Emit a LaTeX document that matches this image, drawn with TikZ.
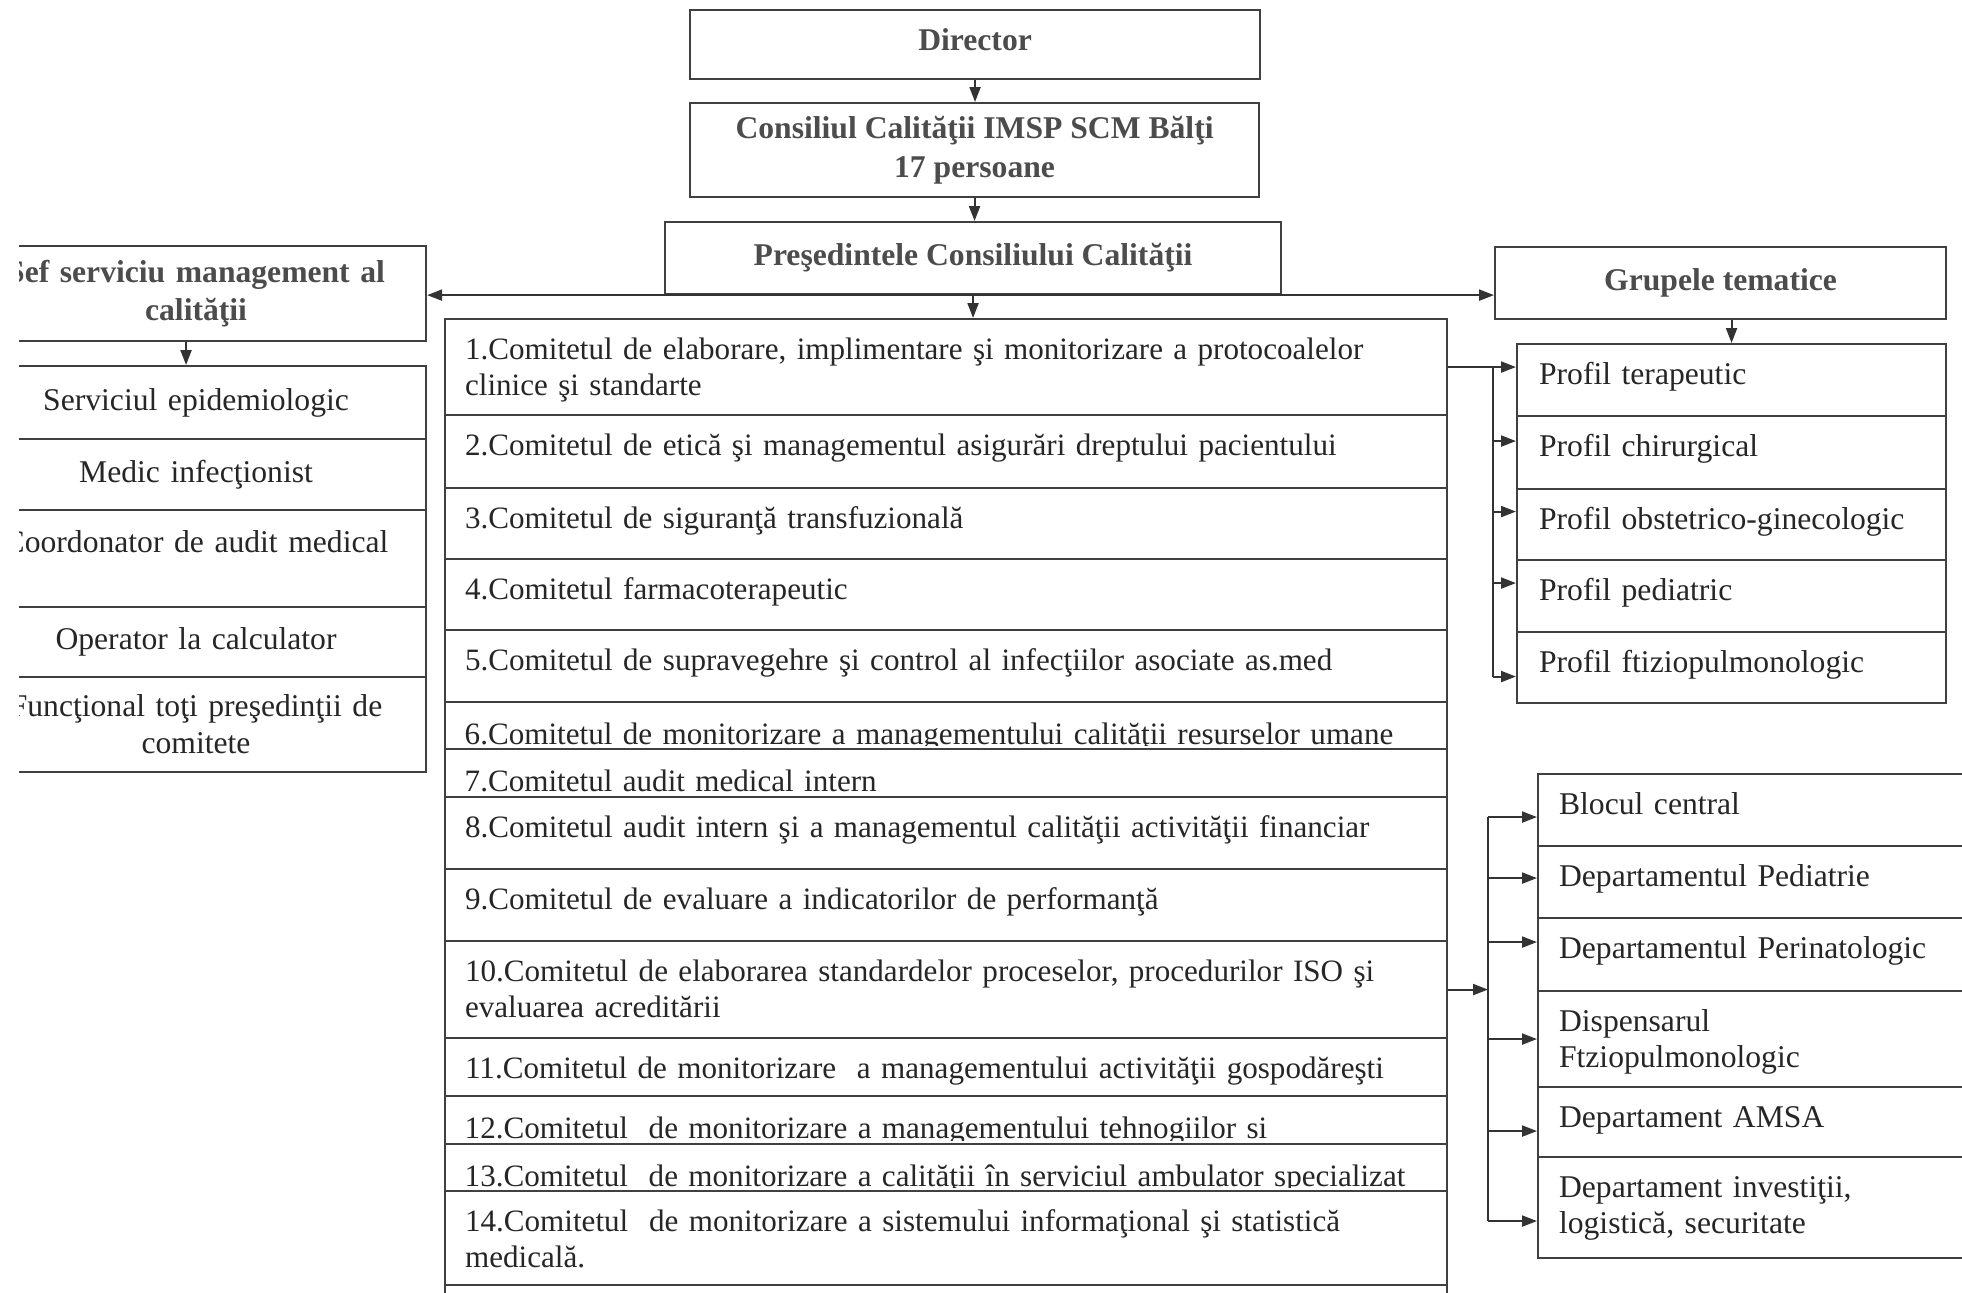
\documentclass[tikz,border=0pt]{standalone}
\usepackage{fontspec}
\setmainfont{Liberation Serif}
\usetikzlibrary{arrows.meta,positioning,calc}

\newcommand{\comfont}{\fontsize{8.85}{10.5}\selectfont}

\begin{document}
\begin{tikzpicture}[x=1cm,y=-1cm,
    >={Triangle[length=1.5mm,width=1.1mm]},
    box/.style={draw=black!75,fill=white,line width=0.6pt,inner sep=0pt,anchor=north west,
      font=\fontsize{9}{10.5}\selectfont,text=black!85},
    head/.style={box,font=\fontsize{9}{11}\selectfont\bfseries,text=black!70,align=center},
    side/.style={box,minimum width=4.6cm,text width=4.2cm,align=center},
    sidehead/.style={side,font=\fontsize{9}{11}\selectfont\bfseries,text=black!70},
    row/.style={box,inner xsep=2mm,text width=9.62cm,align=left,text height=4mm,font=\comfont},
    cut/.style={anchor=base west,inner sep=0pt,text width=9.62cm,align=left,font=\comfont,text=black!85},
    prof/.style={box,inner xsep=2.2mm,text width=3.85cm,align=left,text height=4mm},
    dept/.style={box,inner xsep=2.1mm,text width=3.98cm,align=left,text height=4mm},
    link/.style={draw=black!80,line width=0.6pt}]
  \useasboundingbox (0,0) rectangle (19.62,12.93);
  \clip (0.19,0) rectangle (19.62,12.93);

  % conducere
  \node[head,minimum width=5.70cm,text height=4mm,text depth=2.9mm] (dir) at (6.89,0.09) {Director};
  \node[head,minimum width=5.69cm,minimum height=0.94cm] (cons) at (6.89,1.02) {Consiliul Calităţii IMSP SCM Bălţi\\17 persoane};
  \node[head,minimum width=6.16cm,minimum height=0.72cm] (pres) at (6.64,2.21) {Preşedintele Consiliului Calităţii};

  % serviciul management al calitatii
  \node[sidehead,minimum height=0.95cm] (sef) at (-0.35,2.45) {Şef serviciu management al\\calităţii};
  \node[side,minimum height=0.73cm] (sep) at (-0.35,3.65) {Serviciul epidemiologic};
  \node[side,minimum height=0.71cm] (med) at (-0.35,4.38) {Medic infecţionist};
  \node[side,text height=4.2mm,text depth=5.5mm] (coord) at (-0.35,5.09) {Coordonator de audit medical};
  \node[side,minimum height=0.70cm] (oper) at (-0.35,6.06) {Operator la calculator};
  \node[side,minimum height=0.95cm] (func) at (-0.35,6.76) {Funcţional toţi preşedinţii de\\comitete};

  % grupele tematice
  \node[head,minimum width=4.51cm,minimum height=0.72cm] (grp) at (14.94,2.46) {Grupele tematice};
  \node[prof,text depth=3.2mm] (pt1) at (15.16,3.43) {Profil terapeutic};
  \node[prof,text depth=3.3mm] (pt2) at (15.16,4.15) {Profil chirurgical};
  \node[prof,text depth=3.1mm] (pt3) at (15.16,4.88) {Profil obstetrico-ginecologic};
  \node[prof,text depth=3.2mm] (pt4) at (15.16,5.59) {Profil pediatric};
  \node[prof,text depth=3.1mm] (pt5) at (15.16,6.31) {Profil ftiziopulmonologic};

  % comitete
  \node[row,text depth=5.6mm] (c1) at (4.44,3.18) {1.Comitetul de elaborare, implimentare şi monitorizare a protocoalelor\\clinice şi standarte};
  \node[row,text depth=3.3mm] (c2) at (4.44,4.14) {2.Comitetul de etică şi managementul asigurări dreptului pacientului};
  \node[row,text depth=3.1mm] (c3) at (4.44,4.87) {3.Comitetul de siguranţă transfuzională};
  \node[row,text depth=3.1mm] (c4) at (4.44,5.58) {4.Comitetul farmacoterapeutic};
  \node[row,text depth=3.2mm] (c5) at (4.44,6.29) {5.Comitetul de supravegehre şi control al infecţiilor asociate as.med};
  \node[row,minimum height=0.47cm] (c6) at (4.44,7.01) {};
  \begin{scope}
    \clip (c6.north west) rectangle ([yshift=0.05cm]c6.south east);
    \node[cut] (t6) at ([xshift=2mm,yshift=-0.435cm]c6.north west) {6.Comitetul de monitorizare a managementului calităţii resurselor umane};
  \end{scope}
  \node[row,minimum height=0.48cm] (c7) at (4.44,7.48) {};
  \begin{scope}
    \clip (c7.north west) rectangle ([yshift=0.05cm]c7.south east);
    \node[cut] (t7) at ([xshift=2mm,yshift=-0.435cm]c7.north west) {7.Comitetul audit medical intern};
  \end{scope}
  \node[row,text depth=3.2mm] (c8) at (4.44,7.96) {8.Comitetul audit intern şi a managementul calităţii activităţii financiar};
  \node[row,text depth=3.2mm] (c9) at (4.44,8.68) {9.Comitetul de evaluare a indicatorilor de performanţă};
  \node[row,text depth=5.7mm] (c10) at (4.44,9.40) {10.Comitetul de elaborarea standardelor proceselor, procedurilor ISO şi\\evaluarea acreditării};
  \node[row,text depth=1.8mm] (c11) at (4.44,10.37) {11.Comitetul de monitorizare \ a managementului activităţii gospodăreşti};
  \node[row,minimum height=0.48cm] (c12) at (4.44,10.95) {};
  \begin{scope}
    \clip (c12.north west) rectangle ([yshift=0.05cm]c12.south east);
    \node[cut] (t12) at ([xshift=2mm,yshift=-0.43cm]c12.north west) {12.Comitetul \ de monitorizare a managementului tehnogiilor si};
  \end{scope}
  \node[row,minimum height=0.47cm] (c13) at (4.44,11.43) {};
  \begin{scope}
    \clip (c13.north west) rectangle ([yshift=0.05cm]c13.south east);
    \node[cut] (t13) at ([xshift=2mm,yshift=-0.43cm]c13.north west) {13.Comitetul \ de monitorizare a calităţii în serviciul ambulator specializat};
  \end{scope}
  \node[row,text depth=5.4mm] (c14) at (4.44,11.90) {14.Comitetul \ de monitorizare a sistemului informaţional şi statistică\\medicală.};
  \node[row,minimum height=1cm] (c15) at (4.44,12.84) {};

  % departamente
  \node[dept,text depth=3.2mm] (d1) at (15.37,7.73) {Blocul central};
  \node[dept,text depth=3.2mm] (d2) at (15.37,8.45) {Departamentul Pediatrie};
  \node[dept,text depth=3.3mm] (d3) at (15.37,9.17) {Departamentul Perinatologic};
  \node[dept,text depth=5.6mm] (d4) at (15.37,9.90) {Dispensarul\\Ftziopulmonologic};
  \node[dept,text depth=3.0mm] (d5) at (15.37,10.86) {Departament AMSA};
  \node[dept,text depth=6.1mm] (d6) at (15.37,11.56) {Departament investiţii,\\logistică, securitate};

  % legaturi
  \draw[link,->] (dir.south) -- (dir.south |- cons.north);
  \draw[link,->] (cons.south) -- (cons.south |- pres.north);
  \draw[link,->] (pres.south) -- (pres.south |- c1.north);
  \draw[link,->] (pres.south) -- (pres.south -| sef.east);
  \draw[link,->] (pres.south) -- (pres.south -| grp.west);
  \draw[link,->] ([xshift=-1mm]sef.south) -- ([xshift=-1mm]sep.north);
  \draw[link,->] (grp.south -| pt1.north) -- (pt1.north);

  \coordinate (pb) at (14.93,0);
  \coordinate (db) at (14.88,0);
  \draw[link] (c1.east) -- (c1.east -| pb);
  \draw[link,->] (c1.east -| pb) -- (c1.east -| pt1.west);
  \foreach \n/\dy in {2/-0.115,3/-0.13,4/-0.13,5/0.09} {
    \coordinate (f\n) at ($(pt\n.west)+(0,\dy)$);
    \draw[link,->] (pb |- f\n) -- (f\n);
  }
  \draw[link] (c1.east -| pb) -- (pb |- f5);

  \draw[link,->] (c10.east) -- (c10.east -| db);
  \foreach \n/\dy in {1/0.07,2/-0.04,3/-0.125,4/0,5/0.09,6/0.135} {
    \coordinate (e\n) at ($(d\n.west)+(0,\dy)$);
    \draw[link,->] (db |- e\n) -- (e\n);
  }
  \draw[link] (db |- e1) -- (db |- e6);
\end{tikzpicture}
\end{document}
